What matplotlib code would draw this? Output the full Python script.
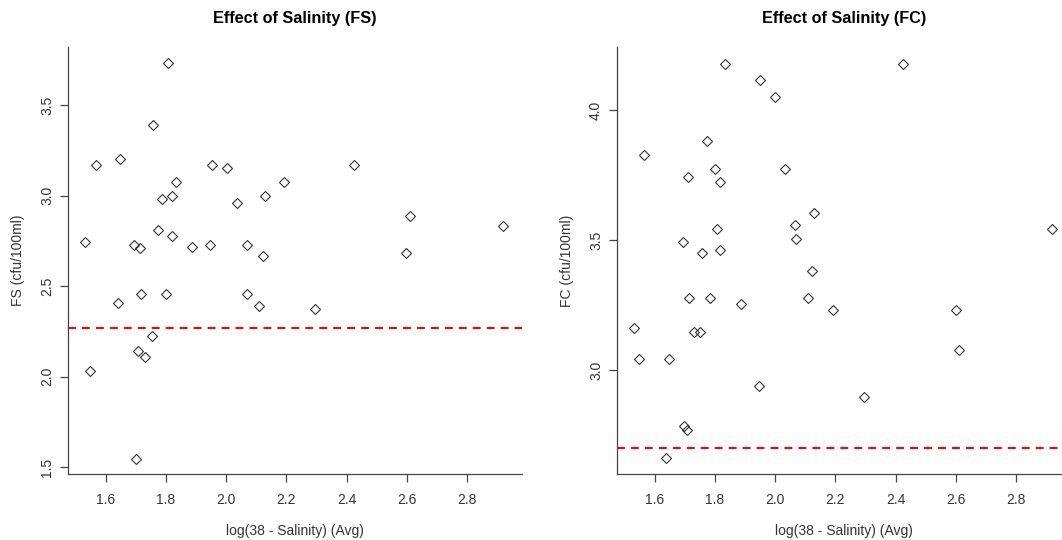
import matplotlib
matplotlib.use("Agg")
import matplotlib.pyplot as plt

# salinity term, log(38 - Salinity) (Avg)
sal_fs = [1.531, 1.549, 1.568, 1.640, 1.649, 1.694, 1.700, 1.706, 1.714, 1.717,
          1.731, 1.754, 1.757, 1.775, 1.786, 1.800, 1.808, 1.819, 1.819, 1.832,
          1.886, 1.948, 1.952, 2.002, 2.036, 2.068, 2.068, 2.110, 2.121, 2.130,
          2.192, 2.296, 2.424, 2.598, 2.609, 2.920]
fs = [2.745, 2.034, 3.170, 2.408, 3.200, 2.727, 1.548, 2.141, 2.708, 2.456,
      2.108, 2.224, 3.390, 2.808, 2.981, 2.456, 3.730, 2.996, 2.778, 3.073,
      2.717, 2.727, 3.170, 3.152, 2.960, 2.727, 2.456, 2.390, 2.666, 2.996,
      3.073, 2.373, 3.169, 2.682, 2.887, 2.830]

sal_fc = [1.530, 1.549, 1.566, 1.639, 1.648, 1.694, 1.699, 1.707, 1.712, 1.715,
          1.730, 1.752, 1.757, 1.773, 1.784, 1.799, 1.806, 1.818, 1.818, 1.832,
          1.886, 1.948, 1.951, 2.001, 2.034, 2.067, 2.068, 2.109, 2.121, 2.128,
          2.191, 2.295, 2.424, 2.599, 2.609, 2.920]
fc = [3.160, 3.041, 3.827, 2.662, 3.041, 3.491, 2.786, 2.768, 3.741, 3.278,
      3.147, 3.147, 3.449, 3.882, 3.278, 3.772, 3.543, 3.723, 3.462, 4.177,
      3.255, 2.938, 4.114, 4.049, 3.772, 3.559, 3.504, 3.278, 3.381, 3.603,
      3.230, 2.896, 4.177, 3.230, 3.078, 3.542]

fs_ref = 2.27   # reference lines
fc_ref = 2.70
xticks = [1.6, 1.8, 2.0, 2.2, 2.4, 2.6, 2.8]

plt.rcParams['font.family'] = ['Liberation Sans', 'DejaVu Sans']

fig = plt.figure(figsize=(10.62, 5.4), dpi=100)
W, H = 1062.0, 540.0

panels = [
    (68, sal_fs, fs, fs_ref, 'Effect of Salinity (FS)', 'FS (cfu/100ml)',
     (1.463, 3.82), [1.5, 2.0, 2.5, 3.0, 3.5]),
    (617, sal_fc, fc, fc_ref, 'Effect of Salinity (FC)', 'FC (cfu/100ml)',
     (2.60, 4.242), [3.0, 3.5, 4.0]),
]

for left, x, y, ref, title, ylab, ylim, yticks in panels:
    ax = fig.add_axes([left / W, (H - 474) / H, 454 / W, 427 / H])
    ax.plot(x, y, linestyle='none', marker='D', markersize=4.6,
            markerfacecolor='none', markeredgecolor='#333333', markeredgewidth=0.8)
    ax.axhline(ref, color='red', lw=1.5, dashes=(3.8, 2.9))
    ax.set_xlim(1.475, 2.982)
    ax.set_ylim(*ylim)
    ax.set_xticks(xticks)
    ax.set_xticklabels(['%.1f' % v for v in xticks])
    ax.set_yticks(yticks)
    ax.set_yticklabels(['%.1f' % v for v in yticks], rotation=90, va='center')
    for s in ['top', 'right']:
        ax.spines[s].set_visible(False)
    for s in ['left', 'bottom']:
        ax.spines[s].set_color('#444444')
        ax.spines[s].set_linewidth(0.9)
    ax.tick_params(axis='both', direction='out', length=6, width=0.9,
                   color='#444444', labelcolor='#333333', labelsize=10)
    ax.tick_params(axis='x', pad=8)
    ax.tick_params(axis='y', pad=4)
    ax.set_title(title, fontsize=11.7, fontweight='bold', pad=17, color='black')
    ax.set_xlabel('log(38 - Salinity) (Avg)', fontsize=10, color='#333333', labelpad=12)
    ax.set_ylabel(ylab, fontsize=10, color='#333333', labelpad=11)

fig.savefig('out.png', dpi=100)
